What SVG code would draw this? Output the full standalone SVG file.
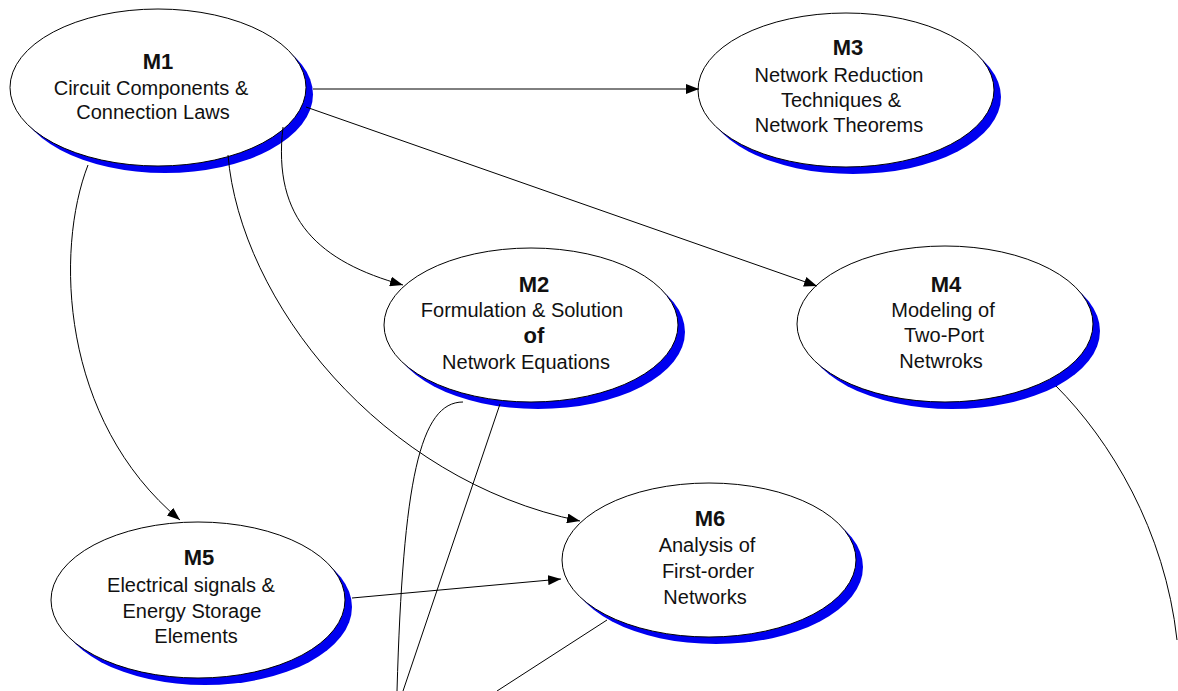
<svg xmlns="http://www.w3.org/2000/svg" width="1178" height="691" viewBox="0 0 1178 691">
  <defs>
    <marker id="arrow" viewBox="0 0 13 10" refX="13" refY="5" markerWidth="13" markerHeight="10" markerUnits="userSpaceOnUse" orient="auto">
      <path d="M0,0 L13,5 L0,10 Z" fill="#000"/>
    </marker>
  </defs>
  <style>
    .shadow { fill: #0000f0; }
    .body { fill: #fff; stroke: #000; stroke-width: 1; }
    text { font-family: "Liberation Sans", Arial, sans-serif; fill: #111; text-anchor: middle; }
    .title { font-size: 22px; font-weight: bold; }
    .label { font-size: 20px; }
    .link { fill: none; stroke: #000; stroke-width: 1; }
    .arrowed { marker-end: url(#arrow); }
  </style>
  <rect width="1178" height="691" fill="#fff"/>

  <!-- modules: offset blue shadow under a white ellipse -->
  <g id="M1">
    <ellipse class="shadow" cx="165" cy="94.5" rx="148" ry="78.5"/>
    <ellipse class="body" cx="158" cy="87.5" rx="148" ry="78.5"/>
    <text class="title" x="158" y="69">M1</text>
    <text class="label" x="151" y="95">Circuit Components &amp;</text>
    <text class="label" x="153" y="119">Connection Laws</text>
  </g>
  <g id="M3">
    <ellipse class="shadow" cx="853" cy="97" rx="148" ry="77"/>
    <ellipse class="body" cx="846" cy="90" rx="148" ry="77"/>
    <text class="title" x="848" y="55">M3</text>
    <text class="label" x="839" y="82">Network Reduction</text>
    <text class="label" x="841" y="107">Techniques &amp;</text>
    <text class="label" x="839" y="132">Network Theorems</text>
  </g>
  <g id="M2">
    <ellipse class="shadow" cx="538" cy="332" rx="147" ry="77"/>
    <ellipse class="body" cx="531" cy="325" rx="147" ry="77"/>
    <text class="title" x="534" y="292">M2</text>
    <text class="label" x="522" y="317">Formulation &amp; Solution</text>
    <text class="title" x="534" y="343">of</text>
    <text class="label" x="526" y="369">Network Equations</text>
  </g>
  <g id="M4">
    <ellipse class="shadow" cx="952" cy="331" rx="148" ry="78"/>
    <ellipse class="body" cx="945" cy="324" rx="148" ry="78"/>
    <text class="title" x="946" y="292">M4</text>
    <text class="label" x="943" y="317">Modeling of</text>
    <text class="label" x="944" y="342">Two-Port</text>
    <text class="label" x="941" y="368">Netwroks</text>
  </g>
  <g id="M5">
    <ellipse class="shadow" cx="205" cy="607" rx="147" ry="78"/>
    <ellipse class="body" cx="198" cy="600" rx="147" ry="78"/>
    <text class="title" x="199" y="565">M5</text>
    <text class="label" x="191" y="592">Electrical signals &amp;</text>
    <text class="label" x="192" y="618">Energy Storage</text>
    <text class="label" x="196" y="643">Elements</text>
  </g>
  <g id="M6">
    <ellipse class="shadow" cx="716" cy="567" rx="147" ry="77"/>
    <ellipse class="body" cx="709" cy="560" rx="147" ry="77"/>
    <text class="title" x="710" y="526">M6</text>
    <text class="label" x="707" y="552">Analysis of</text>
    <text class="label" x="708" y="578">First-order</text>
    <text class="label" x="705" y="604">Networks</text>
  </g>

  <!-- dependencies between modules -->
  <g id="connectors">
    <path class="link arrowed" d="M313,89 L699,89"/>
    <path class="link arrowed" d="M306,107 L817,286"/>
    <path class="link arrowed" d="M283,127 C272,220 320,262 403,285"/>
    <path class="link arrowed" d="M88,165 C55,250 60,420 180,520"/>
    <path class="link arrowed" d="M228,155 C240,300 380,480 580,521"/>
    <path class="link arrowed" d="M352,598 L561,579"/>
    <path class="link" d="M463,402 C420,402 403,480 397,691"/>
    <path class="link" d="M500,404 L403,691"/>
    <path class="link" d="M607,620 L497,691"/>
    <path class="link" d="M1056,386 C1110,440 1165,530 1177,640"/>
  </g>
</svg>
